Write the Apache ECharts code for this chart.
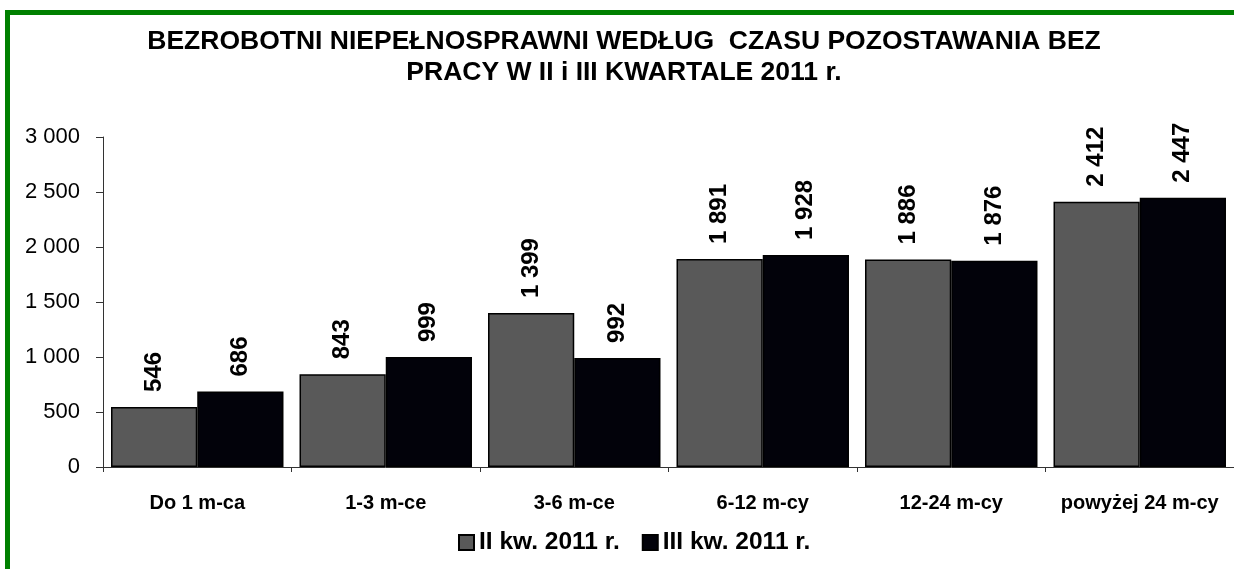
<!DOCTYPE html>
<html>
<head>
<meta charset="utf-8">
<script src="https://cdn.jsdelivr.net/npm/echarts@6/dist/echarts.min.js"></script>
<style>
  html, body { margin: 0; padding: 0; background: #fff; }
  #main { width: 1234px; height: 569px; }
</style>
</head>
<body>
<div id="main"></div>
<script>
// dane z wykresu
const categories = ['Do 1 m-ca', '1-3 m-ce', '3-6 m-ce', '6-12 m-cy', '12-24 m-cy', 'powyżej 24 m-cy']
const seriesNames = ['II kw. 2011 r.', 'III kw. 2011 r.']
const q2Values = [546, 843, 1399, 1891, 1886, 2412]
const q3Values = [686, 999, 992, 1928, 1876, 2447]

const font = '"Liberation Sans", Arial, sans-serif'

// 1 399 -> spacja jako separator tysięcy
function fmt(v) {
  return String(v).replace(/\B(?=(\d{3})+(?!\d))/g, ' ')
}

const chart = echarts.init(document.getElementById('main'))

function barSeries(name, data, color) {
  return {
    name: name,
    type: 'bar',
    data: data,
    barGap: '0%',
    barCategoryGap: '8.5%',
    itemStyle: { color: color, borderColor: '#000', borderWidth: 1.5 },
    label: {
      show: true,
      position: 'top',
      rotate: 90,
      align: 'left',
      verticalAlign: 'middle',
      distance: 15,
      fontFamily: font,
      fontWeight: 'bold',
      fontSize: 24,
      color: '#000',
      formatter: p => fmt(p.value)
    }
  }
}

chart.setOption({
  backgroundColor: '#fff',
  animation: false,
  title: {
    text: 'BEZROBOTNI NIEPEŁNOSPRAWNI WEDŁUG  CZASU POZOSTAWANIA BEZ\nPRACY W II i III KWARTALE 2011 r.',
    left: 624,
    top: 26,
    padding: 0,
    textAlign: 'center',
    textStyle: {
      fontFamily: font,
      fontWeight: 'bold',
      fontSize: 26.5,
      lineHeight: 31,
      color: '#000'
    }
  },
  legend: {
    data: seriesNames,
    left: 458,
    top: 530,
    padding: 0,
    icon: 'rect',
    itemWidth: 15,
    itemHeight: 15,
    itemGap: 22,
    textStyle: { fontFamily: font, fontWeight: 'bold', fontSize: 24.5, color: '#000' }
  },
  grid: { left: 103, top: 137, width: 1140, height: 330 },
  xAxis: {
    type: 'category',
    data: categories,
    axisLine: { lineStyle: { color: '#333', width: 1 } },
    axisTick: { show: true, length: 5, lineStyle: { color: '#333' } },
    axisLabel: {
      interval: 0,
      margin: 26,
      fontFamily: font,
      fontWeight: 'bold',
      fontSize: 20,
      color: '#000'
    }
  },
  yAxis: {
    type: 'value',
    min: 0,
    max: 3000,
    interval: 500,
    axisLine: { show: true, lineStyle: { color: '#333', width: 1 } },
    axisTick: { show: true, length: 7, lineStyle: { color: '#333' } },
    splitLine: { show: false },
    axisLabel: {
      margin: 23,
      fontFamily: font,
      fontSize: 22,
      color: '#000',
      formatter: v => fmt(v)
    }
  },
  series: [
    barSeries(seriesNames[0], q2Values, '#595959'),
    barSeries(seriesNames[1], q3Values, '#02020a')
  ],
  graphic: [
    // zielona ramka (lewa i górna krawędź)
    { type: 'rect', shape: { x: 5, y: 10, width: 5, height: 569 }, style: { fill: '#008000' }, z: 100 },
    { type: 'rect', shape: { x: 5, y: 10, width: 1240, height: 5 }, style: { fill: '#008000' }, z: 100 }
  ]
})
</script>
</body>
</html>
